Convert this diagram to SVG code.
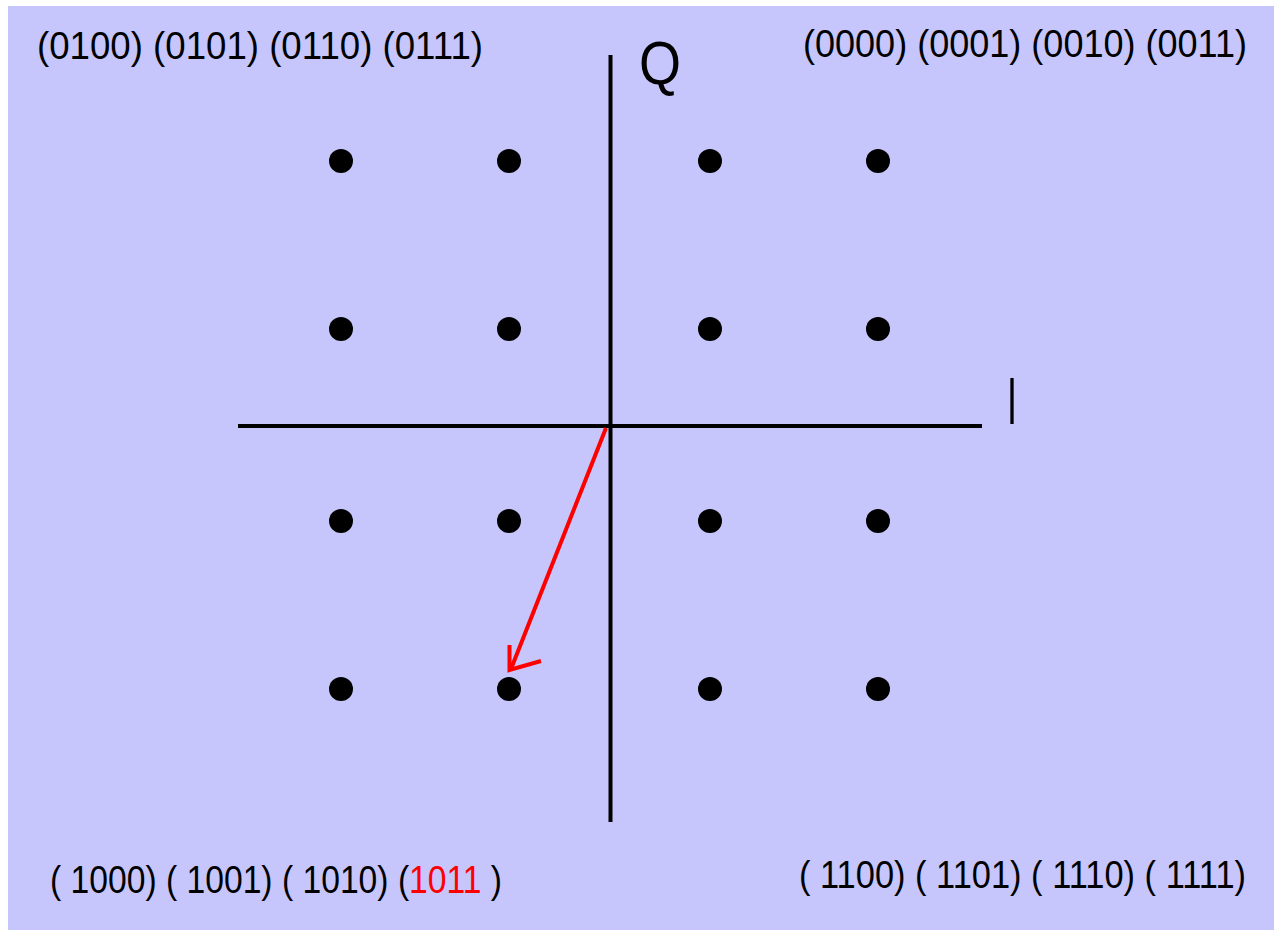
<svg xmlns="http://www.w3.org/2000/svg" width="1274" height="930" viewBox="0 0 1274 930">
  <style>
    .lbl { font-family: "Liberation Sans", Arial, sans-serif; font-size: 38px; fill: #000; }
    .red { fill: #FF0000; }
    .axis { stroke: #000; stroke-width: 4; fill: none; }
    .dot { fill: #000; }
    .vec { stroke: #FF0000; stroke-width: 4; fill: none; }
  </style>
  <rect x="0" y="0" width="1274" height="930" fill="#FFFFFF"/>
  <rect x="8" y="6" width="1266" height="924" fill="#C6C6FC"/>

  <g id="axes">
    <line class="axis" x1="610.5" y1="55" x2="610.5" y2="822"/>
    <line class="axis" x1="238" y1="426" x2="982" y2="426"/>
    <text id="label-Q" class="lbl" x="639" y="84" style="font-size:62px" textLength="42" lengthAdjust="spacingAndGlyphs">Q</text>
    <text id="label-I" class="lbl" x="1007" y="424" style="font-size:67px" textLength="10" lengthAdjust="spacingAndGlyphs">I</text>
  </g>

  <g id="labels">
    <text id="lbl-tl" class="lbl" x="37" y="59" textLength="446" lengthAdjust="spacingAndGlyphs">(0100) (0101) (0110) (0111)</text>
    <text id="lbl-tr" class="lbl" x="803" y="57" textLength="444" lengthAdjust="spacingAndGlyphs">(0000) (0001) (0010) (0011)</text>
    <text id="lbl-bl" class="lbl" x="50" y="893" textLength="452" lengthAdjust="spacingAndGlyphs" xml:space="preserve">( 1000) ( 1001) ( 1010) (<tspan class="red">1011</tspan> )</text>
    <text id="lbl-br" class="lbl" x="799" y="888" textLength="447" lengthAdjust="spacingAndGlyphs" xml:space="preserve">( 1100) ( 1101) ( 1110) ( 1111)</text>
  </g>

  <g id="points">
    <circle id="p0100" class="dot" cx="341" cy="161" r="12"/>
    <circle id="p0101" class="dot" cx="509" cy="161" r="12"/>
    <circle id="p0001" class="dot" cx="710" cy="161" r="12"/>
    <circle id="p0000" class="dot" cx="878" cy="161" r="12"/>
    <circle id="p0110" class="dot" cx="341" cy="329" r="12"/>
    <circle id="p0111" class="dot" cx="509" cy="329" r="12"/>
    <circle id="p0011" class="dot" cx="710" cy="329" r="12"/>
    <circle id="p0010" class="dot" cx="878" cy="329" r="12"/>
    <circle id="p1010" class="dot" cx="341" cy="521" r="12"/>
    <circle id="p1011a" class="dot" cx="509" cy="521" r="12"/>
    <circle id="p1111" class="dot" cx="710" cy="521" r="12"/>
    <circle id="p1110" class="dot" cx="878" cy="521" r="12"/>
    <circle id="p1000" class="dot" cx="341" cy="689" r="12"/>
    <circle id="p1001" class="dot" cx="509" cy="689" r="12"/>
    <circle id="p1101" class="dot" cx="710" cy="689" r="12"/>
    <circle id="p1100" class="dot" cx="878" cy="689" r="12"/>
  </g>

  <g id="connectors">
    <line class="vec" x1="606" y1="428" x2="511" y2="669"/>
    <polyline class="vec" points="509.5,645 509.5,670 541,661"/>
  </g>
</svg>
